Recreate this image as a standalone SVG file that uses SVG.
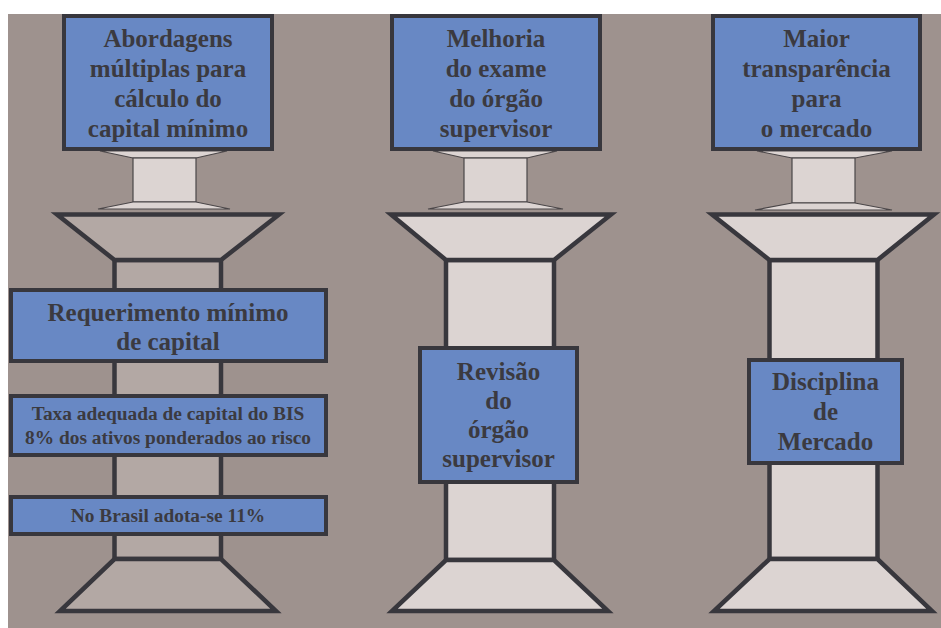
<svg xmlns="http://www.w3.org/2000/svg" width="941" height="628" viewBox="0 0 941 628">
  <style>
    .bg { fill: #9e928e; }
    .box { fill: #6888c4; stroke: #38373d; stroke-width: 4; }
    .col { stroke: #38373d; stroke-width: 4.5; stroke-linejoin: miter; }
    .dark { fill: #b3a8a4; }
    .light { fill: #dcd4d2; }
    .neck { fill: #dcd4d2; stroke: #4a4648; stroke-width: 1.2; }
    text { font-family: "Liberation Serif", "Times New Roman", serif; font-weight: bold; fill: #3b3a40; text-anchor: middle; }
    .t25 { font-size: 25px; }
    .t19 { font-size: 19.4px; }
  </style>

  <rect x="0" y="0" width="941" height="628" fill="#ffffff"/>
  <rect class="bg" x="8" y="14" width="933" height="614"/>

  <!-- Pillar 1: minimum capital -->
  <g id="pillar1">
    <g class="neck">
      <polygon points="100,151 227,151 196,158 133,158"/>
      <rect x="133" y="158" width="63" height="44"/>
      <polygon points="133,202 196,202 230,209 98,209"/>
    </g>
    <g class="col dark">
      <rect x="114.5" y="260" width="106.5" height="299"/>
      <polygon points="57,214.5 279,214.5 221,260 114.5,260"/>
      <polygon points="114.5,559 221,559 276,611 60,611"/>
    </g>
  </g>

  <!-- Pillar 2: supervisory review -->
  <g id="pillar2">
    <g class="neck">
      <polygon points="433,151 557,151 527,158 464,158"/>
      <rect x="464" y="158" width="63" height="44"/>
      <polygon points="464,202 527,202 563,209 428,209"/>
    </g>
    <g class="col light">
      <rect x="446" y="260" width="108" height="300"/>
      <polygon points="391,214.5 611,214.5 554,260 446,260"/>
      <polygon points="446,560 554,560 608,611 392,611"/>
    </g>
  </g>

  <!-- Pillar 3: market discipline -->
  <g id="pillar3">
    <g class="neck">
      <polygon points="757,151 892,151 855,158 792,158"/>
      <rect x="792" y="158" width="63" height="45"/>
      <polygon points="792,203 855,203 892,210 755,210"/>
    </g>
    <g class="col light">
      <rect x="769.5" y="260" width="108" height="299"/>
      <polygon points="712,214.5 934,214.5 877.5,260 769.5,260"/>
      <polygon points="769.5,559 877.5,559 932,611 714,611"/>
    </g>
  </g>

  <!-- Capital boxes on top of the pillars -->
  <g id="top1">
    <rect class="box" x="64" y="16" width="208" height="133"/>
    <text class="t25" x="168" y="47">Abordagens</text>
    <text class="t25" x="168" y="77">múltiplas para</text>
    <text class="t25" x="168" y="107">cálculo do</text>
    <text class="t25" x="168" y="137">capital mínimo</text>
  </g>
  <g id="top2">
    <rect class="box" x="392" y="16" width="208" height="133"/>
    <text class="t25" x="496" y="47">Melhoria</text>
    <text class="t25" x="496" y="77">do exame</text>
    <text class="t25" x="496" y="107">do órgão</text>
    <text class="t25" x="496" y="137">supervisor</text>
  </g>
  <g id="top3">
    <rect class="box" x="713" y="16" width="207" height="133"/>
    <text class="t25" x="816.5" y="47">Maior</text>
    <text class="t25" x="816.5" y="77">transparência</text>
    <text class="t25" x="816.5" y="107">para</text>
    <text class="t25" x="816.5" y="137">o mercado</text>
  </g>

  <!-- Labels on the shafts -->
  <g id="req-capital">
    <rect class="box" x="11" y="290" width="315" height="71"/>
    <text class="t25" x="168" y="321">Requerimento mínimo</text>
    <text class="t25" x="168" y="350">de capital</text>
  </g>
  <g id="taxa-bis">
    <rect class="box" x="11" y="396" width="315" height="59"/>
    <text class="t19" x="168" y="420">Taxa adequada de capital do BIS</text>
    <text class="t19" x="168" y="444">8% dos ativos ponderados ao risco</text>
  </g>
  <g id="brasil">
    <rect class="box" x="11" y="497" width="315" height="37"/>
    <text class="t19" x="168" y="522">No Brasil adota-se 11%</text>
  </g>
  <g id="revisao">
    <rect class="box" x="420" y="348" width="157" height="134"/>
    <text class="t25" x="498.5" y="380">Revisão</text>
    <text class="t25" x="498.5" y="409">do</text>
    <text class="t25" x="498.5" y="438">órgão</text>
    <text class="t25" x="498.5" y="467">supervisor</text>
  </g>
  <g id="disciplina">
    <rect class="box" x="749" y="360" width="153" height="103"/>
    <text class="t25" x="825.5" y="390">Disciplina</text>
    <text class="t25" x="825.5" y="420">de</text>
    <text class="t25" x="825.5" y="450">Mercado</text>
  </g>
</svg>
